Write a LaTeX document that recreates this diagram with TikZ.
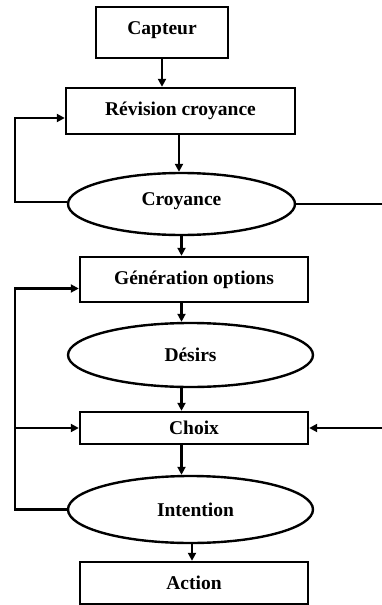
\documentclass[tikz,border=0pt]{standalone}
\usepackage{fontspec}
\setmainfont{Liberation Serif}
\usetikzlibrary{shapes.geometric,arrows.meta,calc}

\begin{document}
\begin{tikzpicture}[x=1pt,y=-1pt,line width=2.4pt,
    font=\fontsize{19.5}{23}\selectfont\bfseries,
    boite/.style={draw,rectangle,inner sep=0pt},
    bulle/.style={draw,ellipse,inner sep=0pt},
    fl/.style={-{Triangle[length=8pt,width=8pt]}}]
            \useasboundingbox (0,0) rectangle (382,605);
            \node[boite,minimum width=132,minimum height=51] (capteur) at (162,32.5) {\raisebox{8pt}{Capteur}\hspace{24pt}};
            \node[boite,minimum width=229,minimum height=46] (revision) at (180.5,111) {Révision croyance};
            \node[bulle,minimum width=227,minimum height=62] (croyance) at (181.5,204) {\raisebox{10pt}{Croyance}};
            \node[boite,minimum width=228,minimum height=45] (generation) at (194,279.5) {Génération options};
            \node[bulle,minimum width=245,minimum height=64] (desirs) at (190.5,355) {Désirs\hspace{24pt}};
            \node[boite,minimum width=228,minimum height=32] (choix) at (194,428) {Choix};
            \node[bulle,minimum width=245,minimum height=67] (intention) at (190.5,509.5) {\hspace{10pt}Intention};
            \node[boite,minimum width=228,minimum height=42] (action) at (194,583) {Action};
            \coordinate (gauche) at (15,0);
            \coordinate (droite) at (382,0);
            % colonne centrale
            \draw[fl] (capteur.south) -- (capteur.south |- revision.north);
            \draw[fl] ([xshift=-1.5pt]revision.south) -- ([xshift=-1.5pt]revision.south |- croyance.north);
            \draw[fl] (croyance.south) -- (croyance.south |- generation.north);
            \draw[fl] (croyance.south |- generation.south) -- (croyance.south |- desirs.north);
            \draw[fl] (croyance.south |- desirs.south) -- (croyance.south |- choix.north);
            \draw[fl] (croyance.south |- choix.south) -- (croyance.south |- intention.north);
            \draw[fl] ([xshift=1.5pt]intention.south) -- ([xshift=1.5pt]intention.south |- action.north);
            % boucles
            \draw[fl] ([yshift=2pt]croyance.west) -- ([yshift=2pt]croyance.west -| gauche) |- ([yshift=-7pt]revision.west);
            \draw[fl] (intention.west) -- (intention.west -| gauche) |- ([yshift=-9pt]generation.west);
            \draw[fl] (intention.west -| gauche) |- (choix.west);
            \draw (croyance.east) -- (croyance.east -| droite);
            \draw[fl] (choix.east -| droite) -- (choix.east);
        \end{tikzpicture}
\end{document}
